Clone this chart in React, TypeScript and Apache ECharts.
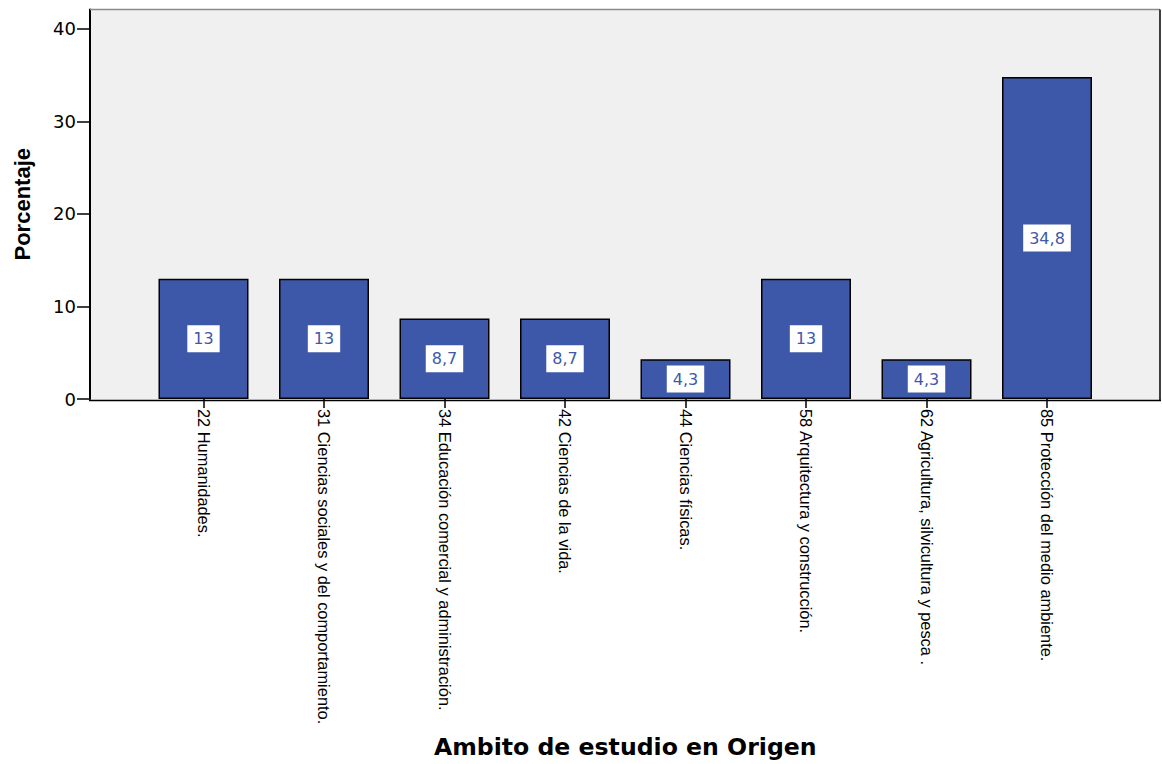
import React, { useEffect, useRef } from "react";
import * as echarts from "echarts";

const categories = [
  "22 Humanidades.",
  "31 Ciencias sociales y del comportamiento.",
  "34 Educación comercial y administración.",
  "42 Ciencias de la vida.",
  "44 Ciencias físicas.",
  "58 Arquitectura y construcción.",
  "62 Agricultura, silvicultura y pesca .",
  "85 Protección del medio ambiente.",
];
const percentages = [13, 13, 8.7, 8.7, 4.3, 13, 4.3, 34.8];
const yTicks = [0, 10, 20, 30, 40];
const yMax = 42.1;

export default function App() {
  const ref = useRef<HTMLDivElement>(null);
  useEffect(() => {
    if (!ref.current) return;
    const chart = echarts.init(ref.current, null, { renderer: "svg" });
    chart.setOption({
      animation: false,
      backgroundColor: "#ffffff",
      grid: { left: 143.25, right: 54.75, top: 9.5, bottom: 363.5, containLabel: false },
      graphic: [
        {
          type: "rect",
          z: -10,
          shape: { x: 90, y: 9.5, width: 1070, height: 391 },
          style: { fill: "#f0f0f0" },
          silent: true,
        },
        {
          type: "line",
          z: 100,
          shape: { x1: 90, y1: 9.5, x2: 1160, y2: 9.5 },
          style: { stroke: "#8a8a8a", lineWidth: 1.5 },
          silent: true,
        },
        {
          type: "line",
          z: 100,
          shape: { x1: 1160, y1: 9.5, x2: 1160, y2: 400.5 },
          style: { stroke: "#000000", lineWidth: 1.5 },
          silent: true,
        },
        {
          type: "line",
          z: 100,
          shape: { x1: 89, y1: 400.5, x2: 1161, y2: 400.5 },
          style: { stroke: "#000000", lineWidth: 1.5 },
          silent: true,
        },
      ],
      xAxis: {
        type: "category",
        data: categories,
        axisLine: { show: false },
        axisTick: { show: true, alignWithLabel: true, length: 9, lineStyle: { color: "#000", width: 1.5 } },
        axisLabel: {
          rotate: -90,
          margin: 10,
          interval: 0,
          fontFamily: "Liberation Sans, Arial, sans-serif",
          fontSize: 16.4,
          color: "#000",
        },
        name: "Ambito de estudio en Origen",
        nameLocation: "middle",
        nameGap: 336,
        nameTextStyle: {
          fontFamily: "DejaVu Sans",
          fontWeight: "bold",
          fontSize: 23.6,
          color: "#000",
        },
      },
      yAxis: {
        type: "value",
        min: 0,
        max: yMax,
        interval: 10,
        offset: 53.25,
        splitLine: { show: false },
        axisLine: { show: true, lineStyle: { color: "#000", width: 2 } },
        axisTick: { show: true, length: 13, customValues: yTicks, lineStyle: { color: "#000", width: 1.5 } },
        axisLabel: {
          customValues: yTicks,
          margin: 14,
          fontFamily: "DejaVu Sans",
          fontSize: 18,
          color: "#000",
        },
        name: "Porcentaje",
        nameLocation: "middle",
        nameGap: 57,
        nameTextStyle: {
          fontFamily: "Liberation Sans, Arial, sans-serif",
          fontWeight: "bold",
          fontSize: 22,
          color: "#000",
        },
      },
      series: [
        {
          type: "bar",
          data: percentages,
          barWidth: 90,
          itemStyle: { color: "#3d58a9", borderColor: "#000", borderWidth: 1.5 },
          label: {
            show: true,
            position: "inside",
            formatter: (p: any) => String(p.value).replace(".", ","),
            backgroundColor: "#ffffff",
            padding: [6, 6, 5, 6],
            color: "#4058ac",
            fontFamily: "DejaVu Sans",
            fontSize: 16,
          },
        },
      ],
    });
    return () => chart.dispose();
  }, []);
  return (
    <div
      ref={ref}
      style={{ position: "fixed", left: 0, top: 0, width: 1162, height: 764 }}
    />
  );
}
